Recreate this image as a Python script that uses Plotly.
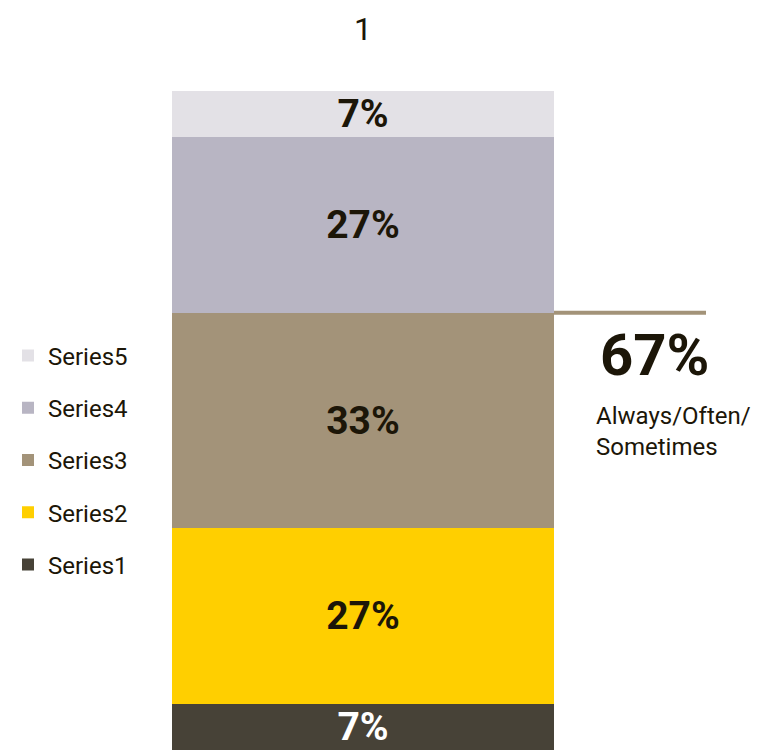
import plotly.graph_objects as go

categories = ["1"]
series_names = ["Series1", "Series2", "Series3", "Series4", "Series5"]
series_values = [0.07, 0.27, 0.33, 0.27, 0.07]
series_colors = ["#474237", "#FFCF00", "#A39379", "#B8B5C3", "#E3E1E6"]
label_colors = ["#FFFFFF", "#1C1608", "#1C1608", "#1C1608", "#1C1608"]
callout_value = "67%"
callout_label = "Always/Often/<br>Sometimes"

FONT = "Roboto, Inter, sans-serif"
W, H = 775, 750
OFF = 8  # page body offset of the figure
TOP = 91 - OFF
BOT = OFF

fig = go.Figure()
for i, (name, val, col, lc) in enumerate(zip(series_names, series_values, series_colors, label_colors)):
    fig.add_trace(go.Bar(
        x=categories, y=[val], name=name,
        marker=dict(color=col, line=dict(width=0)),
        text=[f"{round(val*100)}%"], textposition="inside",
        insidetextanchor="middle", constraintext="none",
        textfont=dict(family=FONT, size=39, color=lc, weight="bold"),
        hoverinfo="skip",
        legendgroup=f"g{i}", legendrank=len(series_names) - i,
    ))

total = sum(series_values)
cum3 = sum(series_values[:3])

fig.add_shape(type="line", xref="paper", yref="y",
              x0=(554 - OFF) / W, x1=(706 - OFF) / W, y0=cum3, y1=cum3,
              line=dict(color="#A39379", width=4))
fig.add_annotation(xref="paper", yref="y", x=(598 - OFF) / W, y=cum3, yshift=-42,
                   text=f"<b>{callout_value}</b>", showarrow=False,
                   xanchor="left", yanchor="middle",
                   font=dict(family=FONT, size=58, color="#1C1608"))
fig.add_annotation(xref="paper", yref="y", x=(594 - OFF) / W, y=cum3, yshift=-119,
                   text=callout_label, showarrow=False, align="left",
                   xanchor="left", yanchor="middle",
                   font=dict(family=FONT, size=24, color="#1C1608"))

plot_h = H - TOP - BOT
fig.update_layout(
    width=W, height=H,
    margin=dict(l=0, r=0, t=TOP, b=BOT, pad=0),
    barmode="stack", bargap=0,
    plot_bgcolor="white", paper_bgcolor="white",
    showlegend=True,
    legend=dict(x=0, xanchor="left", y=(750 - 460) / plot_h, yanchor="middle",
                traceorder="grouped", tracegroupgap=18,
                font=dict(family=FONT, size=24, color="#1C1608"),
                bgcolor="rgba(0,0,0,0)", itemwidth=30),
    xaxis=dict(domain=[(172 - OFF) / W, (554 - OFF) / W], range=[-0.5, 0.5], side="top",
               showgrid=False, zeroline=False, showline=False, ticks="",
               ticklabelstandoff=44, automargin=False,
               tickfont=dict(family=FONT, size=32, color="#1C1608")),
    yaxis=dict(range=[0, total], showgrid=False, zeroline=False, showline=False,
               showticklabels=False, ticks="", automargin=False),
)

fig.write_html("out.html")
